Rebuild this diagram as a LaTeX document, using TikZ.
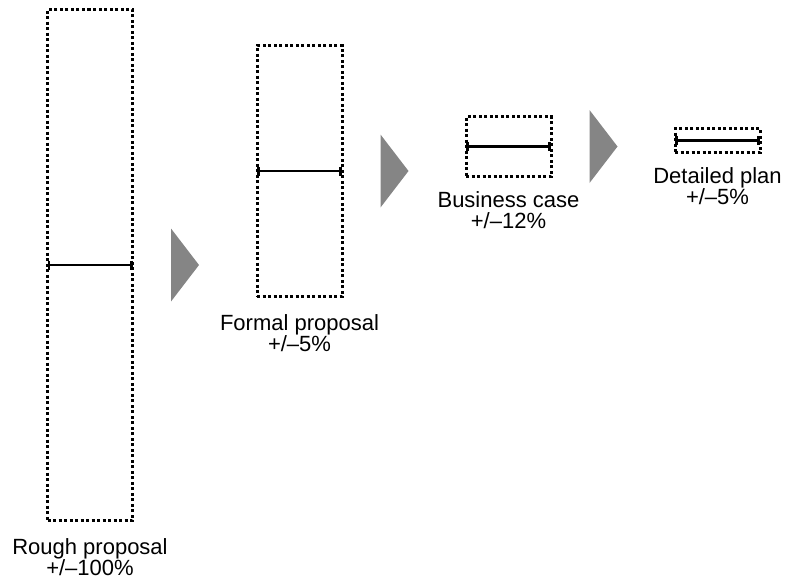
\documentclass[tikz,border=0pt]{standalone}
\usepackage{fontspec}
\setmainfont{Liberation Sans}
\usetikzlibrary{positioning,arrows.meta}

\begin{document}
\begin{tikzpicture}[x=0.5pt, y=-0.5pt, font=\fontsize{11}{10.5}\selectfont,
  estimate/.style={draw, line width=1.5pt, dash pattern=on 1.5pt off 1.25pt,
    inner sep=0pt, outer sep=0pt, minimum width=42.5pt},
  rangeline/.style={line width=1.4pt, {Bar[width=4.5pt]}-{Bar[width=4.5pt]}},
  stagetext/.style={align=center, inner sep=0pt},
  stagearrow/.style={fill=black!48}]

  \useasboundingbox (0,0) rectangle (785,579);

  % estimate boxes
  \node[estimate, minimum height=255.5pt] (rough) at (90,265) {};
  \node[estimate, minimum height=125.5pt] (formal) at (299.5,171) {};
  \node[estimate, minimum height=30pt] (business) at (508.5,146.5) {};
  \node[estimate, minimum height=12pt] (detailed) at (717.5,140.5) {};

  % ranges
  \foreach \s in {rough,formal,business,detailed}
    \draw[rangeline] (\s.west) -- (\s.east);

  % labels
  \node[stagetext, below=9pt of rough] (roughtext) {Rough proposal\\+/–100\%};
  \node[stagetext, below=9pt of formal] (formaltext) {Formal proposal\\+/–5\%};
  \node[stagetext, below=7.5pt of business] (businesstext) {Business case\\+/–12\%};
  \node[stagetext, below=7.5pt of detailed] (detailedtext) {Detailed plan\\+/–5\%};

  % arrows between stages
  \foreach \a in {rough,formal,business}
    \fill[stagearrow] ([xshift=19.25pt, yshift=18.25pt]\a.east)
      -- ++(14pt,-18.25pt) -- ++(-14pt,-18.25pt) -- cycle;
\end{tikzpicture}
\end{document}
